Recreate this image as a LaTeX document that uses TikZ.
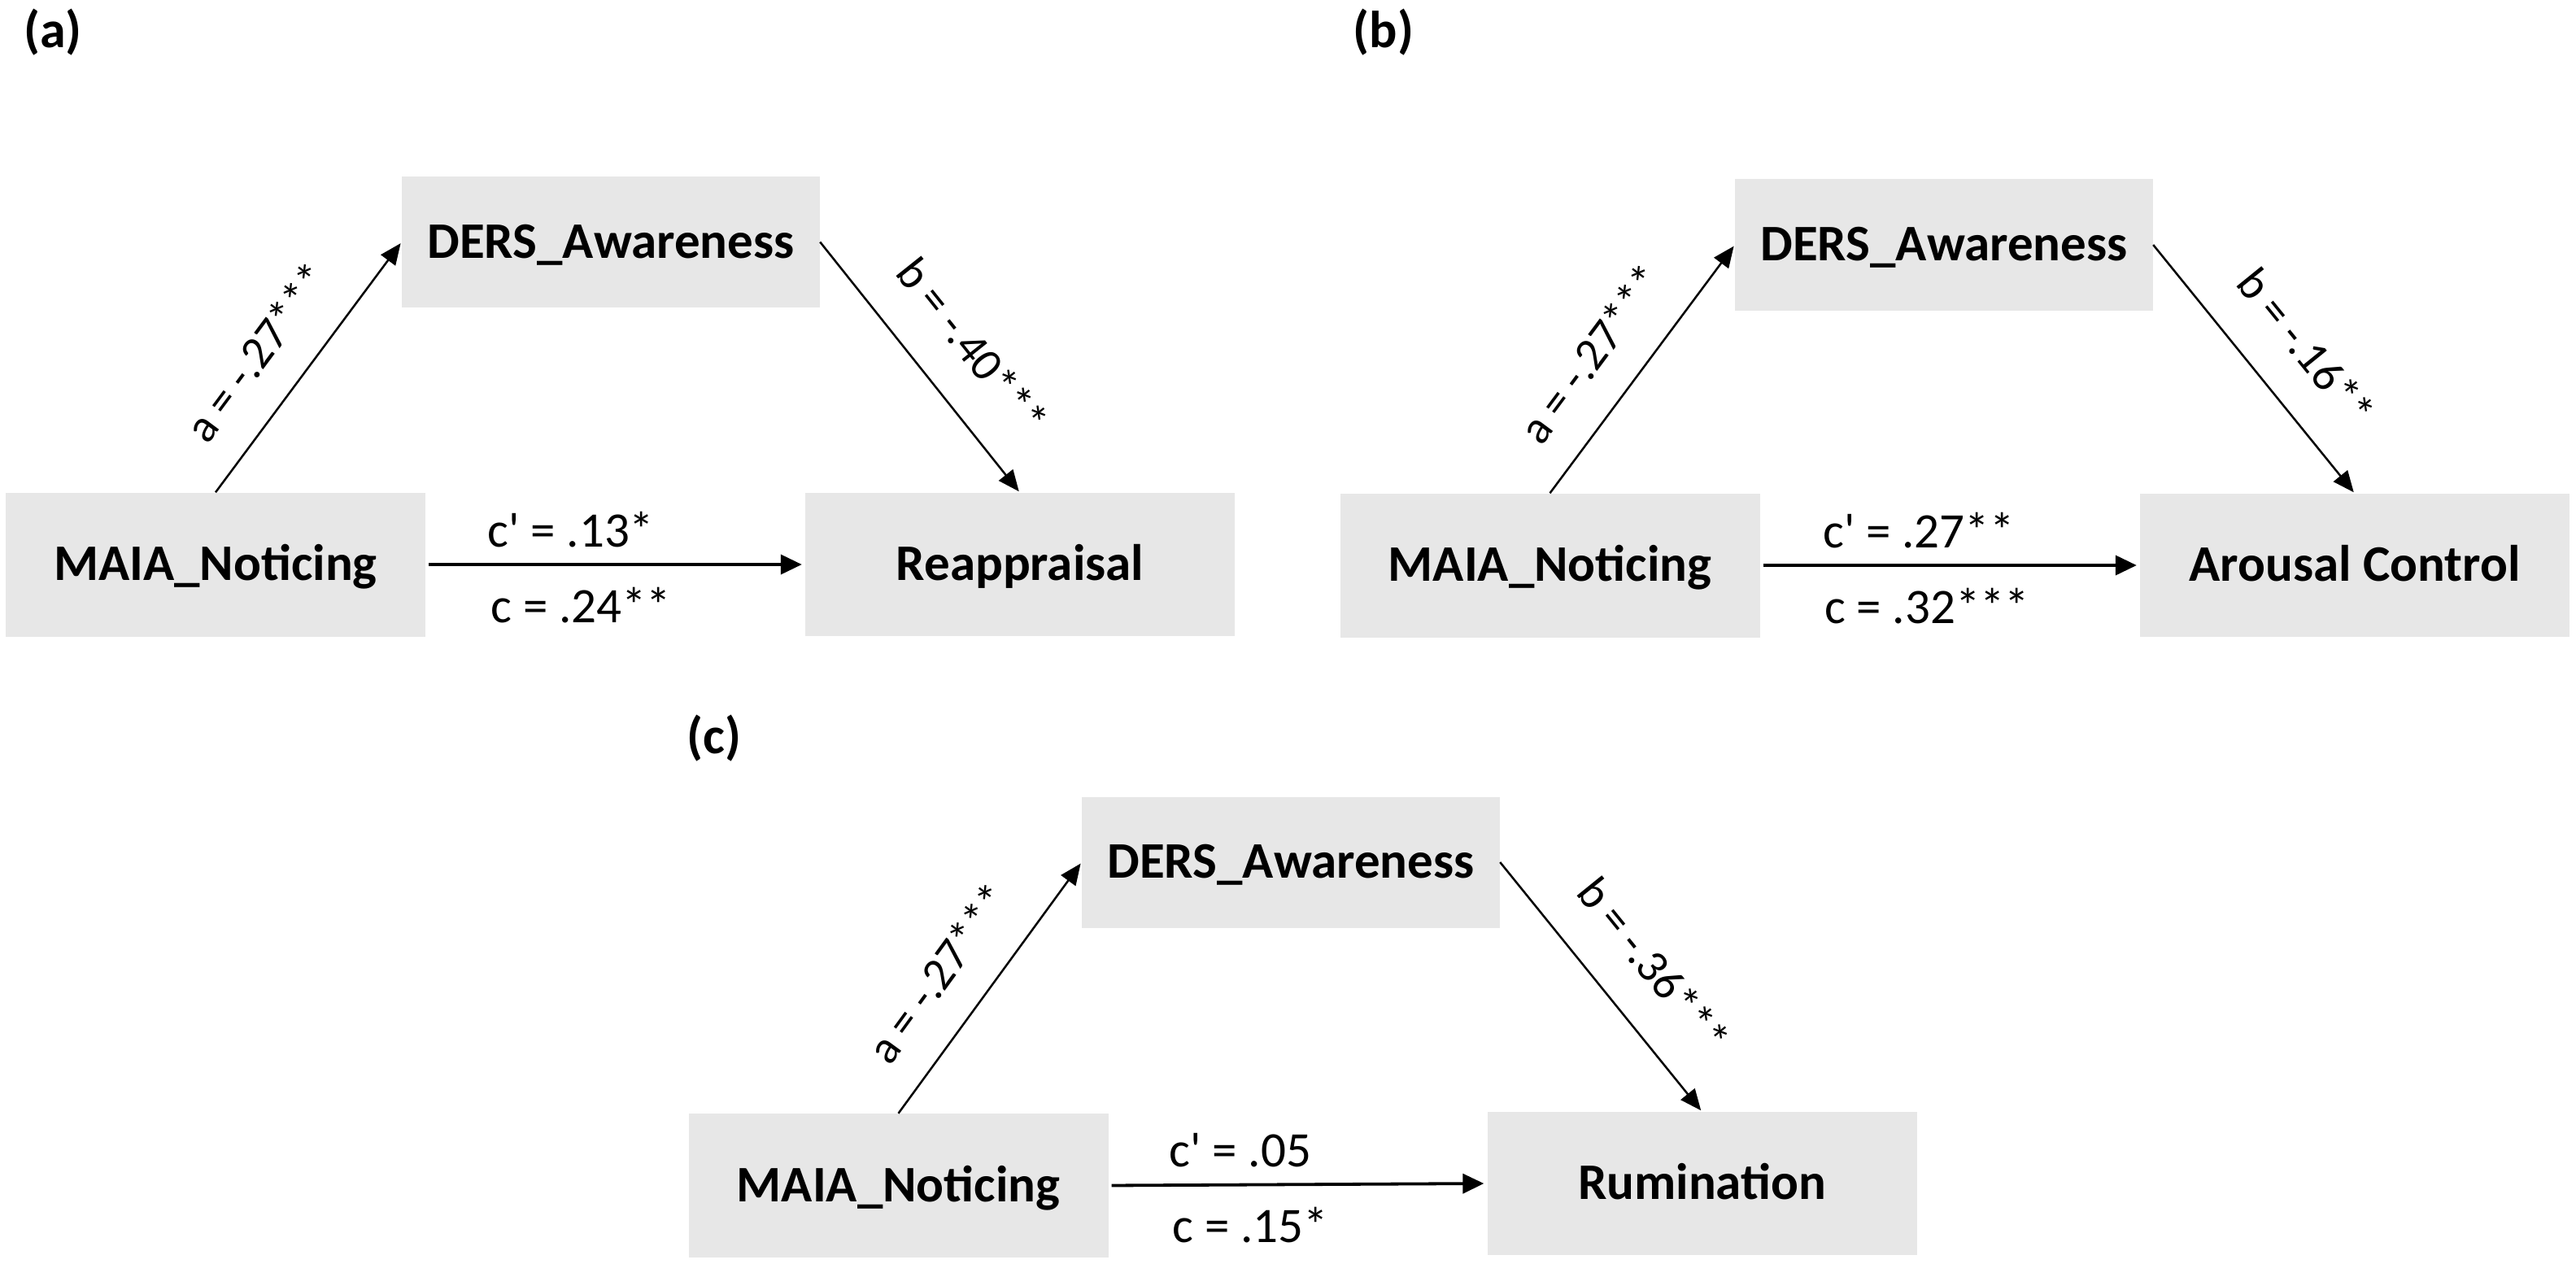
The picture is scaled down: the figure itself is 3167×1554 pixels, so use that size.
\documentclass[tikz,border=0pt]{standalone}
\usepackage{fontspec}
\setmainfont{Carlito}[Ligatures=TeXOff]
\usetikzlibrary{arrows.meta}
\definecolor{boxgray}{RGB}{231,231,231}
\begin{document}
\begin{tikzpicture}[x=1pt,y=-1pt,
  box/.style={fill=boxgray, inner sep=0pt, font=\fontsize{63}{75}\selectfont\bfseries, text height=39pt, text depth=0pt},
  med/.style={box, minimum width=514pt, minimum height=161pt},
  pred/.style={box, minimum width=516pt, minimum height=177pt},
  outc/.style={box, minimum width=528pt, minimum height=176pt},
  conn/.style={line width=2.5pt, -{Triangle[length=26pt,width=22pt]}, shorten >=2pt},
  hconn/.style={line width=3.8pt, -{Triangle[length=26pt,width=24pt]}, shorten >=4pt, shorten <=4pt},
  lab/.style={font=\fontsize{61}{72}\selectfont, inner sep=0pt, text height=40pt, text depth=12pt, anchor=base},
  slab/.style={font=\fontsize{57}{68}\selectfont, inner sep=0pt, text height=40pt, text depth=12pt, sloped},
  ttl/.style={font=\fontsize{64}{76}\selectfont\bfseries, inner sep=0pt}
]
\path[use as bounding box] (0,0) rectangle (3167,1554);

% ---------- (a)
\node[ttl] (ta) at (65,40) {(a)};
\node[med]  (da) at (751,297.5) {DERS\_Awareness};
\node[pred] (ma) at (265,694) {MAIA\_Noticing};
\node[outc] (ra) at (1254,694) {Reappraisal};
\draw[conn] (ma.north) -- (da.west) node[slab, pos=0.44, above=29pt] {a = -.27***};
\draw[conn] (da.east) -- (ra.north) node[slab, pos=0.55, above=34pt] {b = -.40***};
\draw[hconn] (ma.east) -- (ra.west)
  node[lab, pos=0.383, yshift=22pt] {c' = .13*}
  node[lab, pos=0.41, yshift=-71pt] {c = .24**};

% ---------- (b)
\node[ttl] (tb) at (1701,40) {(b)};
\node[med]  (db) at (2390,301) {DERS\_Awareness};
\node[pred] (mb) at (1905.5,695) {MAIA\_Noticing};
\node[outc] (rb) at (2895,695) {Arousal Control};
\draw[conn] (mb.north) -- (db.west) node[slab, pos=0.44, above=29pt] {a = -.27***};
\draw[conn] (db.east) -- (rb.north) node[slab, pos=0.55, above=34pt] {b = -.16**};
\draw[hconn] (mb.east) -- (rb.west)
  node[lab, pos=0.418, yshift=22pt] {c' = .27**}
  node[lab, pos=0.44, yshift=-71pt] {c = .32***};

% ---------- (c)
\node[ttl] (tc) at (878,908) {(c)};
\node[med]  (dc) at (1587,1060) {DERS\_Awareness};
\node[pred] (mc) at (1104.5,1457.5) {MAIA\_Noticing};
\node[outc] (rc) at (2092.5,1455) {Rumination};
\draw[conn] (mc.north) -- (dc.west) node[slab, pos=0.44, above=29pt] {a = -.27***};
\draw[conn] (dc.east) -- (rc.north) node[slab, pos=0.55, above=34pt] {b = -.36***};
\draw[hconn] (mc.east) -- (rc.west)
  node[lab, pos=0.348, yshift=22pt] {c' = .05}
  node[lab, pos=0.375, yshift=-71pt] {c = .15*};
\end{tikzpicture}
\end{document}
